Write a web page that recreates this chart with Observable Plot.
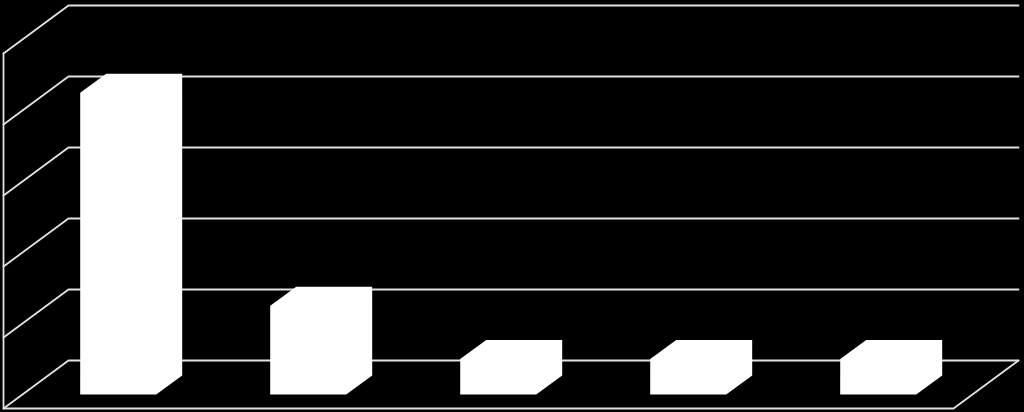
<!DOCTYPE html>
<html>
<head>
<meta charset="utf-8">
<script src="https://cdn.jsdelivr.net/npm/d3@7"></script>
<script src="https://cdn.jsdelivr.net/npm/@observablehq/plot@0.6"></script>
<style>
html,body{margin:0;padding:0;background:#000;overflow:hidden}
svg{display:block}
</style>
</head>
<body>
<div id="chart"></div>
<script>
const categories = [1, 2, 3, 4, 5];
const values = [17, 5, 2, 2, 2];
const yTicks = [0, 4, 8, 12, 16, 20];

// Oblique projection of the pseudo-3D chart box, in data units.
const depthX = 0.342;
const depthY = 2.704;
const xMax = categories.length;
const yMax = 20;
const barHalf = 0.2;
const barShift = 0.0045;
const barD0 = 0.29;
const barD1 = 0.69;

const project = (u, v, d) => ({x: u + d * depthX, y: v + d * depthY});

// Wall and back gridlines
const gridPaths = yTicks.flatMap(t => [
  {id: t, ...project(0, t, 0)},
  {id: t, ...project(0, t, 1)},
  {id: t, ...project(xMax, t, 1)}
]);
const framePath = [
  {id: "f", ...project(0, yMax, 0)},
  {id: "f", ...project(0, 0, 0)},
  {id: "f", ...project(xMax, 0, 0)},
  {id: "f", ...project(xMax, 0, 1)}
];
// Bar silhouettes
const barPaths = categories.flatMap((c, i) => {
  const l = c - 0.5 - barHalf + barShift, r = c - 0.5 + barHalf + barShift, v = values[i];
  return [
    project(l, 0, barD0), project(r, 0, barD0), project(r, 0, barD1),
    project(r, v, barD1), project(l, v, barD1), project(l, v, barD0)
  ].map(p => ({id: c, ...p}));
});

const chart = Plot.plot({
  width: 1024,
  height: 412,
  marginLeft: 3,
  marginRight: 6,
  marginTop: 5,
  marginBottom: 4,
  style: {background: "#000"},
  x: {domain: [0, xMax + depthX], axis: null},
  y: {domain: [0, yMax + depthY], axis: null},
  marks: [
    Plot.line(gridPaths, {x: "x", y: "y", z: "id", stroke: "#e2e2e2", strokeWidth: 1.8, curve: "linear"}),
    Plot.line(framePath, {x: "x", y: "y", z: "id", stroke: "#e2e2e2", strokeWidth: 1.8, curve: "linear"}),
    Plot.line(barPaths, {x: "x", y: "y", z: "id", fill: "#fff", stroke: "none", curve: "linear-closed"})
  ]
});
document.getElementById("chart").append(chart);
</script>
</body>
</html>
